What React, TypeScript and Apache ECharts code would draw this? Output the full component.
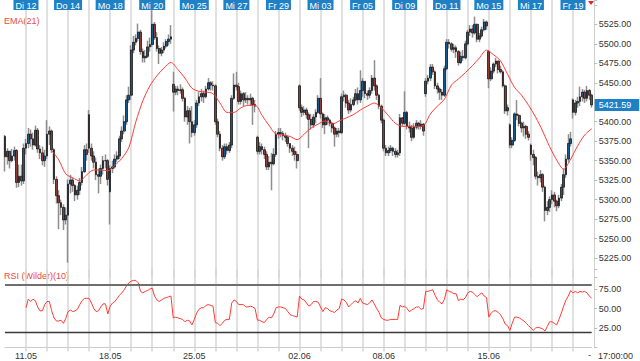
import React, { useEffect, useRef } from 'react';
import * as echarts from 'echarts';

// ---- data ----
const days = ['11.05','12.05','13.05','14.05','15.05','18.05','19.05','20.05','21.05','25.05','26.05','27.05','28.05','29.05',
  '02.06','03.06','04.06','05.06','08.06','09.06','10.06','11.06','12.06','15.06','16.06','17.06','18.06','19.06'];
const hours = ['09:00','10:00','11:00','12:00','13:00','14:00','15:00','16:00','17:00'];
const dayTags = ['', 'Di 12', '', 'Do 14', '', 'Mo 18', '', 'Mi 20', '', 'Mo 25', '', 'Mi 27', '', 'Fr 29',
  '', 'Mi 03', '', 'Fr 05', '', 'Di 09', '', 'Do 11', '', 'Mo 15', '', 'Mi 17', '', 'Fr 19'];
const weekTags = ['', '11.05', '', '', '', '18.05', '', '', '', '25.05', '', '', '', '', '02.06', '', '', '', '08.06',
  '', '', '', '', '15.06', '', '', '', ''];
const dayOpens = [5381, 5366, 5356, 5280, 5409, 5310, 5434, 5499, 5448, 5386, 5446, 5447, 5380, 5384,
  5446, 5430, 5386, 5440, 5402, 5398, 5436, 5468, 5500, 5490, 5396, 5370, 5300, 5428];
const closes = [
  5355, 5362, 5350, 5356, 5363, 5322, 5330, 5324, 5366,
  5372, 5384, 5378, 5370, 5389, 5365, 5360, 5350, 5356,
  5384, 5388, 5364, 5326, 5305, 5296, 5290, 5274, 5280,
  5320, 5325, 5318, 5306, 5312, 5322, 5336, 5364, 5358,
  5366, 5356, 5348, 5332, 5330, 5340, 5350, 5350, 5326,
  5340, 5342, 5352, 5356, 5378, 5388, 5400, 5428, 5434,
  5492, 5502, 5507, 5515, 5490, 5482, 5484, 5496, 5499,
  5525, 5508, 5494, 5488, 5492, 5497, 5503, 5506, 5509,
  5438, 5442, 5440, 5441, 5430, 5406, 5414, 5400, 5386,
  5396, 5424, 5432, 5436, 5432, 5442, 5450, 5447, 5446,
  5400, 5384, 5366, 5355, 5368, 5363, 5370, 5430, 5447,
  5445, 5426, 5436, 5428, 5430, 5428, 5430, 5422, 5420,
  5362, 5368, 5364, 5358, 5342, 5348, 5346, 5358, 5384,
  5386, 5385, 5382, 5380, 5372, 5366, 5362, 5358, 5350,
  5418, 5412, 5415, 5409, 5403, 5396, 5406, 5412, 5430,
  5410, 5396, 5405, 5402, 5398, 5392, 5384, 5388, 5386,
  5432, 5434, 5424, 5415, 5422, 5428, 5436, 5428, 5440,
  5452, 5436, 5434, 5440, 5456, 5446, 5434, 5420, 5402,
  5366, 5360, 5363, 5366, 5362, 5358, 5360, 5405, 5398,
  5412, 5394, 5392, 5380, 5393, 5398, 5394, 5397, 5388,
  5452, 5456, 5470, 5464, 5446, 5442, 5438, 5434, 5468,
  5502, 5500, 5493, 5495, 5490, 5476, 5484, 5482, 5500,
  5515, 5519, 5514, 5525, 5506, 5510, 5518, 5528, 5523,
  5455, 5465, 5474, 5478, 5467, 5464, 5446, 5414, 5418,
  5370, 5376, 5410, 5408, 5398, 5392, 5394, 5384, 5380,
  5358, 5354, 5330, 5328, 5332, 5316, 5286, 5290, 5300,
  5306, 5298, 5292, 5302, 5316, 5332, 5352, 5372, 5378,
  5412, 5424, 5426, 5432, 5438, 5430, 5440, 5434, 5421.59,
];
const highs = [
  5383, 5366, 5362, 5365, 5368, 5365, 5345, 5345, 5372,
  5378, 5392, 5390, 5386, 5395, 5392, 5370, 5368, 5364,
  5402, 5394, 5390, 5366, 5330, 5312, 5300, 5294, 5290,
  5326, 5332, 5328, 5320, 5318, 5328, 5342, 5370, 5372,
  5415, 5372, 5362, 5354, 5340, 5345, 5356, 5358, 5352,
  5344, 5350, 5358, 5362, 5382, 5394, 5408, 5434, 5445,
  5498, 5510, 5512, 5526, 5518, 5494, 5492, 5504, 5508,
  5543, 5528, 5515, 5498, 5496, 5502, 5506, 5512, 5524,
  5464, 5446, 5446, 5448, 5444, 5432, 5420, 5418, 5420,
  5402, 5428, 5438, 5442, 5440, 5446, 5456, 5452, 5452,
  5448, 5404, 5388, 5370, 5372, 5372, 5374, 5434, 5462,
  5464, 5450, 5440, 5438, 5438, 5434, 5436, 5432, 5428,
  5382, 5374, 5372, 5368, 5362, 5356, 5360, 5366, 5388,
  5392, 5392, 5388, 5386, 5382, 5372, 5370, 5368, 5362,
  5448, 5422, 5420, 5418, 5412, 5410, 5410, 5416, 5434,
  5456, 5412, 5410, 5408, 5404, 5400, 5394, 5392, 5392,
  5436, 5440, 5436, 5428, 5430, 5432, 5442, 5444, 5466,
  5456, 5452, 5440, 5444, 5460, 5479, 5448, 5436, 5422,
  5404, 5370, 5368, 5370, 5368, 5366, 5364, 5410, 5406,
  5439, 5414, 5400, 5396, 5398, 5402, 5400, 5402, 5398,
  5456, 5460, 5474, 5474, 5466, 5450, 5444, 5442, 5472,
  5506, 5506, 5502, 5500, 5498, 5492, 5490, 5492, 5504,
  5518, 5524, 5524, 5535, 5526, 5514, 5522, 5532, 5530,
  5492, 5470, 5476, 5482, 5478, 5472, 5466, 5448, 5422,
  5398, 5380, 5412, 5428, 5410, 5400, 5400, 5396, 5388,
  5372, 5364, 5356, 5336, 5338, 5334, 5318, 5298, 5304,
  5312, 5310, 5300, 5306, 5320, 5340, 5358, 5384, 5387,
  5430, 5428, 5432, 5445, 5442, 5441, 5446, 5442, 5436,
];
const lows = [
  5336, 5345, 5340, 5348, 5350, 5315, 5316, 5318, 5320,
  5358, 5366, 5368, 5364, 5368, 5360, 5352, 5344, 5342,
  5352, 5370, 5360, 5320, 5295, 5262, 5280, 5261, 5268,
  5219, 5308, 5310, 5298, 5300, 5306, 5318, 5334, 5350,
  5360, 5350, 5340, 5325, 5308, 5320, 5332, 5340, 5318,
  5268, 5334, 5340, 5348, 5352, 5374, 5384, 5396, 5424,
  5428, 5488, 5498, 5503, 5486, 5476, 5476, 5482, 5490,
  5496, 5505, 5490, 5474, 5484, 5488, 5494, 5498, 5500,
  5413, 5434, 5434, 5436, 5426, 5400, 5396, 5372, 5380,
  5382, 5392, 5420, 5426, 5424, 5430, 5440, 5440, 5440,
  5396, 5380, 5362, 5350, 5352, 5358, 5360, 5366, 5428,
  5440, 5422, 5422, 5420, 5424, 5422, 5420, 5396, 5412,
  5358, 5358, 5358, 5352, 5338, 5338, 5312, 5344, 5355,
  5378, 5380, 5376, 5374, 5368, 5360, 5356, 5350, 5340,
  5414, 5406, 5408, 5404, 5366, 5390, 5392, 5398, 5410,
  5404, 5392, 5384, 5396, 5394, 5386, 5368, 5380, 5380,
  5384, 5426, 5418, 5410, 5412, 5420, 5426, 5422, 5424,
  5432, 5430, 5428, 5430, 5436, 5440, 5428, 5416, 5398,
  5362, 5356, 5356, 5360, 5356, 5354, 5354, 5356, 5394,
  5396, 5390, 5386, 5375, 5378, 5390, 5390, 5390, 5382,
  5432, 5448, 5452, 5460, 5442, 5436, 5428, 5428, 5432,
  5466, 5494, 5490, 5488, 5482, 5472, 5474, 5478, 5480,
  5498, 5510, 5508, 5512, 5502, 5502, 5508, 5516, 5518,
  5443, 5452, 5462, 5470, 5462, 5462, 5444, 5410, 5408,
  5366, 5366, 5374, 5402, 5394, 5386, 5381, 5378, 5376,
  5350, 5344, 5326, 5318, 5322, 5310, 5272, 5280, 5284,
  5294, 5290, 5285, 5289, 5298, 5306, 5328, 5348, 5368,
  5404, 5408, 5418, 5420, 5426, 5424, 5426, 5428, 5418,
];
// EMA(21), one reading every third candle from candle 20
const emaValues = [
  5363, 5351, 5333, 5328, 5324, 5332, 5338, 5338, 5337, 5344,
  5353, 5367, 5400, 5427, 5446, 5459, 5469, 5476, 5467, 5456,
  5443, 5439, 5438, 5436, 5424, 5412, 5412, 5418, 5421, 5421,
  5408, 5395, 5384, 5383, 5381, 5377, 5384, 5392, 5397, 5401,
  5397, 5401, 5405, 5409, 5415, 5420, 5424, 5418, 5408, 5398,
  5394, 5394, 5394, 5395, 5410, 5420, 5429, 5447, 5455, 5463,
  5472, 5482, 5492, 5486, 5478, 5461, 5444, 5434, 5421, 5406,
  5388, 5368, 5351, 5339, 5352, 5369, 5383, 5391,
];
// RSI (Wilder)(10), one value per candle from the 10th candle
const rsiValues = [
  51, 62, 59, 62, 60, 52, 47, 47, 55,
  59, 59, 47, 38, 34, 34, 35, 31, 37,
  46, 48, 46, 47, 49, 55, 60, 63, 63,
  63, 57, 50, 46, 47, 52, 56, 56, 43,
  53, 57, 59, 63, 67, 70, 74, 79, 83,
  85, 86, 86, 83, 72, 70, 72, 73, 75,
  76, 66, 61, 59, 61, 63, 64, 65, 66,
  38, 39, 38, 37, 36, 33, 35, 34, 29,
  36, 44, 49, 51, 51, 54, 55, 54, 53,
  32, 31, 28, 31, 35, 36, 36, 57, 61,
  59, 55, 55, 55, 52, 52, 53, 52, 50,
  35, 35, 33, 32, 36, 39, 38, 43, 51,
  52, 52, 51, 50, 46, 42, 41, 40, 39,
  66, 62, 61, 57, 53, 55, 59, 59, 58,
  52, 46, 51, 50, 47, 46, 45, 48, 50,
  62, 61, 58, 52, 55, 58, 60, 57, 63,
  57, 56, 55, 57, 61, 56, 50, 45, 38,
  36, 35, 35, 36, 36, 36, 36, 54, 52,
  53, 50, 46, 48, 50, 52, 52, 49, 50,
  72, 72, 73, 74, 67, 61, 58, 56, 62,
  74, 72, 71, 69, 69, 60, 62, 61, 64,
  70, 72, 71, 68, 65, 68, 70, 66, 64,
  39, 44, 47, 47, 45, 42, 37, 30, 28,
  22, 31, 39, 39, 38, 36, 34, 31, 28,
  25, 22, 25, 26, 25, 24, 21, 27, 33,
  33, 31, 29, 36, 44, 53, 61, 66, 73,
  70, 72, 70, 72, 71, 72, 70, 66, 63,
];
const rsiLevels = [80, 20];
const lastTime = '17:00:00';

const FONT = 'Liberation Sans, Arial, sans-serif';
const RED = '#ff3b35';
const BLUE_TAG = '#1f80c6';

export default function App() {
  const ref = useRef<HTMLDivElement>(null);
  useEffect(() => {
    if (!ref.current) return;
    const chart = echarts.init(ref.current, undefined, { renderer: 'svg' });
    const PER_DAY = hours.length;
    const categories = days.flatMap((d) => hours.map((h) => `${d} ${h}`));
    const ohlc = closes.map((c, i) => {
      const o = i % PER_DAY === 0 ? dayOpens[i / PER_DAY] : closes[i - 1];
      return [o, c, Math.min(lows[i], o, c), Math.max(highs[i], o, c)];
    });
    const bodies = ohlc.map(([o, c]) => [o, c, Math.min(o, c), Math.max(o, c)]);
    const rsiStart = closes.length - rsiValues.length;
    const rsiData = rsiValues.map((v, k) => [rsiStart + k, v]);
    const emaData = emaValues.map((v, k) => [20 + 3 * k, v]);
    const lastPrice = closes[closes.length - 1];
    const dayLine = (i: number) => i > 0 && i % PER_DAY === 0;

    const L = 4.95;
    const R = 48.3;
    const gridLine = { show: true, interval: dayLine, lineStyle: { color: '#d6d6d6', width: 1.5 } };
    const yCommon = {
      position: 'right' as const,
      offset: 2.5,
      axisLine: { show: true, lineStyle: { color: '#d0d0d0' } },
      axisTick: { show: true, length: 3, lineStyle: { color: '#bbbbbb' } },
      splitLine: { show: false },
    };

    chart.setOption({
      animation: false,
      textStyle: { fontFamily: FONT },
      grid: [
        { left: L, right: R, top: 0, height: 277.5, outerBoundsMode: 'none' },
        { left: L, right: R, top: 269.5, height: 78, outerBoundsMode: 'none' },
        { left: L, right: R, top: 11, height: 1, outerBoundsMode: 'none' },
      ],
      xAxis: [
        {
          gridIndex: 0, type: 'category', data: categories, boundaryGap: false,
          axisLine: { show: false }, axisTick: { show: false }, axisLabel: { show: false },
          splitLine: gridLine,
        },
        {
          gridIndex: 1, type: 'category', data: categories, boundaryGap: false,
          axisLine: { show: true, lineStyle: { color: '#cccccc' } },
          axisTick: { show: true, interval: dayLine, length: 4, lineStyle: { color: '#d6d6d6', width: 1.5 } },
          axisLabel: {
            interval: (i: number) => i % PER_DAY === 0 && weekTags[i / PER_DAY] !== '',
            formatter: (_v: string, i: number) => weekTags[i / PER_DAY] || '',
            fontSize: 9, color: '#333', margin: 3.5, fontFamily: FONT,
          },
          splitLine: gridLine,
        },
        {
          gridIndex: 2, type: 'category', data: categories, boundaryGap: false, position: 'top',
          axisLine: { show: false }, axisTick: { show: false }, splitLine: { show: false },
          axisLabel: {
            interval: (i: number) => i % PER_DAY === 0 && dayTags[i / PER_DAY] !== '',
            formatter: (_v: string, i: number) => dayTags[i / PER_DAY] || '',
            fontSize: 9, color: '#ffffff', backgroundColor: BLUE_TAG, padding: [1, 2, 0, 2],
            lineHeight: 9, margin: 1, fontFamily: FONT,
          },
        },
      ],
      yAxis: [
        {
          ...yCommon, gridIndex: 0, type: 'value', min: 5200, max: 5556.25, interval: 25,
          axisLabel: {
            formatter: (v: number) => (v < 5225 || v > 5525 || Math.abs(v - lastPrice) < 10 ? '' : v.toFixed(2)),
            fontSize: 9, color: '#333', margin: 4.5, fontFamily: FONT,
          },
        },
        {
          ...yCommon, gridIndex: 1, type: 'value', min: 0, max: 100, interval: 25,
          axisLabel: {
            formatter: (v: number) => (v <= 0 || v >= 100 ? '' : v.toFixed(2)),
            fontSize: 9, color: '#333', margin: 4.5, fontFamily: FONT,
          },
        },
        { gridIndex: 2, type: 'value', show: false },
      ],
      series: [
        {
          name: 'wicks', type: 'candlestick', xAxisIndex: 0, yAxisIndex: 0, data: ohlc,
          barWidth: 1.2, clip: false,
          itemStyle: { color: '#8e8e8e', color0: '#8e8e8e', borderColor: '#8e8e8e', borderColor0: '#8e8e8e', borderWidth: 1.5 },
        },
        {
          name: 'bodies', type: 'candlestick', xAxisIndex: 0, yAxisIndex: 0, data: bodies,
          barWidth: 2.2, clip: false,
          itemStyle: { color: '#13598c', color0: '#8e3a35', borderColor: '#1a1a1a', borderColor0: '#1a1a1a', borderWidth: 0.8 },
          markLine: {
            silent: true, symbol: ['none', 'none'],
            lineStyle: { color: 'rgba(0,0,0,0)', width: 0 },
            label: {
              show: true, position: 'end', formatter: lastPrice.toFixed(2), distance: 3,
              backgroundColor: BLUE_TAG, color: '#fff', fontSize: 9, padding: [2, 8, 1, 4], fontFamily: FONT,
            },
            data: [{ yAxis: lastPrice }],
          },
        },
        {
          name: 'EMA(21)', type: 'line', xAxisIndex: 0, yAxisIndex: 0, data: emaData,
          showSymbol: false, smooth: 0.3, lineStyle: { color: RED, width: 1 },
        },
        {
          name: 'RSI', type: 'line', xAxisIndex: 1, yAxisIndex: 1, data: rsiData,
          showSymbol: false, lineStyle: { color: RED, width: 1 },
          markLine: {
            silent: true, symbol: ['none', 'none'], label: { show: false },
            data: [
              { yAxis: rsiLevels[0], lineStyle: { color: '#6e6e6e', width: 2, type: 'solid' } },
              { yAxis: rsiLevels[1], lineStyle: { color: '#3a3a3a', width: 1.3, type: 'solid' } },
            ],
          },
        },
      ],
      graphic: [
        { type: 'text', left: 4, top: 16, style: { text: 'EMA(21)', fill: '#ee4a40', fontSize: 9, fontFamily: FONT } },
        { type: 'text', left: 4, top: 271, style: { text: 'RSI (Wilder)(10)', fill: '#ee4a40', fontSize: 9, fontFamily: FONT } },
        { type: 'polygon', shape: { points: [[588, 1], [594, 1], [591, 5]] }, style: { fill: '#e0262b' } },
        { type: 'text', left: 588, top: 350, style: { text: '-', fill: '#333', fontSize: 9, fontFamily: FONT } },
        { type: 'text', left: 598, top: 351, style: { text: lastTime, fill: '#333', fontSize: 9, fontFamily: FONT } },
      ],
    });
    return () => chart.dispose();
  }, []);
  return <div ref={ref} style={{ position: 'fixed', left: 0, top: 0, width: 640, height: 361, background: '#fff' }} />;
}
